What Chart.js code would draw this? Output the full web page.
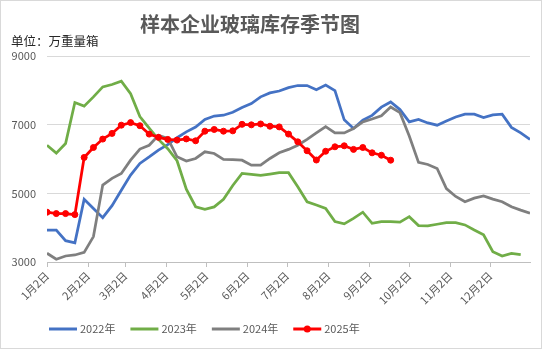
<!DOCTYPE html>
<html>
<head>
<meta charset="utf-8">
<script src="https://cdn.jsdelivr.net/npm/chart.js@4.4.1/dist/chart.umd.min.js"></script>
<style>
  body { margin: 0; background: #fff; }
  canvas { display: block; }
</style>
</head>
<body>
<canvas id="graficoVidro" width="542" height="349"></canvas>
<script>
const titulo = '样本企业玻璃库存季节图'
const unidade = '单位：万重量箱'

// month ticks, as days counted from Jan 2
const diasMes = [0, 31, 59, 90, 120, 151, 181, 212, 243, 273, 304, 334]
const rotulosMes = ['1月2日', '2月2日', '3月2日', '4月2日', '5月2日', '6月2日',
  '7月2日', '8月2日', '9月2日', '10月2日', '11月2日', '12月2日']

const anos = ['2022年', '2023年', '2024年', '2025年']

// weekly inventory, one value per week starting Jan 2
const estoque2022 = [3930, 3930, 3620, 3560, 4830, 4560, 4290, 4640, 5090, 5530,
  5870, 6060, 6260, 6420, 6620, 6790, 6930, 7150, 7250, 7275,
  7360, 7500, 7615, 7810, 7925, 7980, 8080, 8140, 8140, 8020,
  8155, 7990, 7140, 6890, 7130, 7270, 7510, 7660, 7440, 7080,
  7150, 7050, 6985, 7110, 7225, 7305, 7305, 7210, 7285, 7305,
  6920, 6760, 6570]
const estoque2023 = [6400, 6170, 6450, 7645, 7540, 7810, 8100, 8170, 8265, 7900,
  7235, 6900, 6570, 6300, 5950, 5120, 4610, 4535, 4605, 4825,
  5230, 5580, 5555, 5520, 5560, 5605, 5600, 5190, 4755, 4660,
  4560, 4175, 4110, 4270, 4450, 4125, 4175, 4175, 4160, 4320,
  4060, 4050, 4100, 4145, 4145, 4080, 3930, 3790, 3300, 3175,
  3250, 3215]
const estoque2024 = [3255, 3080, 3175, 3205, 3280, 3740, 5240, 5435, 5580, 5965,
  6290, 6400, 6690, 6600, 6065, 5940, 6015, 6210, 6160, 5990,
  5985, 5965, 5820, 5820, 6015, 6180, 6280, 6400, 6570, 6760,
  6945, 6760, 6760, 6890, 7080, 7165, 7260, 7515, 7350, 6670,
  5900, 5840, 5725, 5140, 4910, 4755, 4860, 4925, 4830, 4755,
  4610, 4510, 4420]
const estoque2025 = [4450, 4410, 4410, 4380, 6045, 6335, 6580, 6745, 6985, 7060,
  6970, 6725, 6630, 6570, 6550, 6585, 6530, 6810, 6860, 6810,
  6820, 7010, 6995, 7020, 6955, 6935, 6725, 6500, 6240, 5970,
  6225, 6355, 6385, 6280, 6335, 6180, 6110, 5965]

const cores = ['#4472C4', '#70AD47', '#7F7F7F', '#FF0000']
const fonte = '"Noto Sans CJK SC", "Noto Sans", sans-serif'

function semanal(valores) {
    return valores.map((v, i) => ({ x: i * 7, y: v }))
}

// title, unit note, frame and the legend row
const cabecalho = {
    id: 'cabecalho',
    beforeDraw(chart) {
        const ctx = chart.ctx
        ctx.save()
        ctx.fillStyle = '#fff'
        ctx.fillRect(0, 0, chart.width, chart.height)
        ctx.strokeStyle = '#d9d9d9'
        ctx.lineWidth = 1
        ctx.strokeRect(0.5, 0.5, chart.width - 1, chart.height - 1)
        ctx.restore()
    },
    afterDraw(chart) {
        const ctx = chart.ctx
        ctx.save()
        ctx.textBaseline = 'middle'
        ctx.fillStyle = '#595959'
        ctx.font = 'bold 20px ' + fonte
        ctx.textAlign = 'center'
        ctx.fillText(titulo, 250, 24)

        ctx.fillStyle = '#262626'
        ctx.font = '12.5px ' + fonte
        ctx.textAlign = 'left'
        ctx.fillText(unidade, 11, 41)

        ctx.font = '11px ' + fonte
        let x = 49
        const y = 329
        chart.data.datasets.forEach((ds, i) => {
            ctx.strokeStyle = ds.borderColor
            ctx.lineWidth = 3
            ctx.beginPath()
            ctx.moveTo(x, y)
            ctx.lineTo(x + 28, y)
            ctx.stroke()
            if (ds.pointRadius > 0) {
                ctx.fillStyle = ds.borderColor
                ctx.beginPath()
                ctx.arc(x + 14, y, 3.5, 0, Math.PI * 2)
                ctx.fill()
            }
            ctx.fillStyle = '#595959'
            ctx.fillText(ds.label, x + 31, y)
            x += 31 + ctx.measureText(ds.label).width + 15
        })
        ctx.restore()
    }
}

const grafico = new Chart(document.getElementById('graficoVidro'), {
    type: 'line',
    data: {
        datasets: [estoque2022, estoque2023, estoque2024, estoque2025].map((valores, i) => ({
            label: anos[i],
            data: semanal(valores),
            borderColor: cores[i],
            backgroundColor: cores[i],
            borderWidth: 2.75,
            pointRadius: i === 3 ? 3 : 0,
            pointBorderWidth: 1,
            tension: 0,
            order: 4 - i
        }))
    },
    options: {
        responsive: false,
        animation: false,
        layout: { padding: { left: 1, right: 12, top: 56, bottom: 0 } },
        plugins: {
            legend: { display: false },
            tooltip: { enabled: false }
        },
        scales: {
            x: {
                type: 'linear',
                min: 0,
                max: 364,
                afterBuildTicks: scale => {
                    scale.ticks = diasMes.map(v => ({ value: v }))
                },
                afterFit: scale => { scale.height = 87 },
                ticks: {
                    autoSkip: false,
                    minRotation: 45,
                    maxRotation: 45,
                    padding: 2,
                    color: '#595959',
                    font: { family: fonte, size: 11 },
                    callback: v => rotulosMes[diasMes.indexOf(v)]
                },
                grid: {
                    drawOnChartArea: false,
                    drawTicks: true,
                    tickLength: 5,
                    color: '#bfbfbf'
                },
                border: { color: '#bfbfbf' }
            },
            y: {
                min: 3000,
                max: 9000,
                afterFit: scale => { scale.width = 46 },
                ticks: {
                    stepSize: 2000,
                    padding: 11,
                    color: '#595959',
                    font: { family: fonte, size: 11 },
                    callback: v => String(v)
                },
                grid: { color: '#d9d9d9', drawTicks: false },
                border: { display: false }
            }
        }
    },
    plugins: [cabecalho]
})
</script>
</body>
</html>
